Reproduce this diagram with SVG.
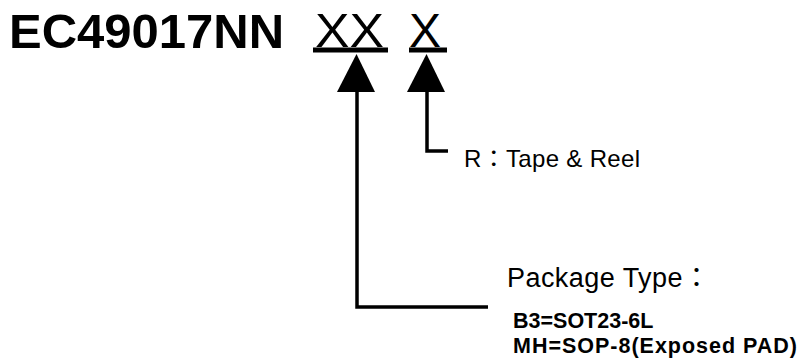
<svg xmlns="http://www.w3.org/2000/svg" width="802" height="361" viewBox="0 0 802 361">
<style>
.t{font-family:"Liberation Sans","Noto Sans CJK TC",Arial,sans-serif;fill:#000}
.ln{stroke:#000;stroke-width:3.5;fill:none}
.ul{stroke:#000;stroke-width:5;fill:none}
.tri{fill:#000}
</style>
<rect width="802" height="361" fill="#fff"/>
<g id="title">
<text class="t" x="9" y="48" font-size="49" font-weight="bold">EC49017NN</text>
</g>
<g id="code-xx">
<text class="t" x="315" y="47" font-size="48" textLength="69" lengthAdjust="spacingAndGlyphs">XX</text>
<line class="ul" x1="313" y1="50" x2="388" y2="50"/>
</g>
<g id="code-x">
<text class="t" x="409" y="47" font-size="48" textLength="32" lengthAdjust="spacingAndGlyphs">X</text>
<line class="ul" x1="409" y1="50" x2="447" y2="50"/>
</g>
<g id="connectors">
<polygon class="tri" points="356.5,54 337,92 375,92"/>
<polygon class="tri" points="426.5,54 407,92 445,92"/>
<polyline class="ln" points="357,91 357,307 488,307"/>
<polyline class="ln" points="427,91 427,151 448,151"/>
</g>
<g id="tape-reel">
<text class="t" x="464" y="167" font-size="24" textLength="176" lengthAdjust="spacing">R：Tape &amp; Reel</text>
</g>
<g id="package-type">
<text class="t" x="507" y="287" font-size="27" textLength="203" lengthAdjust="spacing">Package Type：</text>
<text class="t" x="513" y="328" font-size="21.5" font-weight="bold">B3=SOT23-6L</text>
<text class="t" x="513" y="353" font-size="21.5" font-weight="bold" textLength="284" lengthAdjust="spacing">MH=SOP-8(Exposed PAD)</text>
</g>
</svg>
